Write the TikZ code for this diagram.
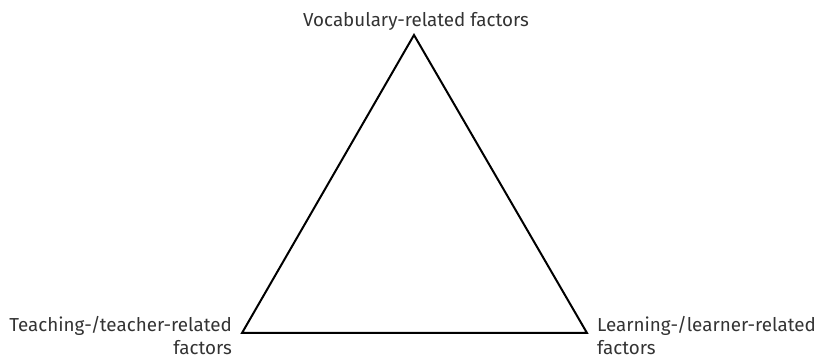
\documentclass[tikz,border=0pt]{standalone}
\usepackage{fontspec}
\setmainfont{Fira Sans}
\begin{document}
\begin{tikzpicture}[x=1pt,y=-1pt,
  lbl/.style={inner sep=0pt, text=black!80, font=\fontsize{18.8}{23}\selectfont},
  edge/.style={draw=black, line width=2pt, line join=miter}]
\useasboundingbox (0,0) rectangle (820,358);
\coordinate (top) at (414,35);
\coordinate (bl) at (242,333);
\coordinate (br) at (587,333);
\draw[edge] (top) -- (bl) -- (br) -- cycle;
\node[lbl, anchor=base] (voc) at (416,27) {Vocabulary-related factors};
\node[lbl, anchor=north east, align=right] (teach) at (232,316) {Teaching-/teacher-related\\factors};
\node[lbl, anchor=north west, align=left] (learn) at (597,316) {Learning-/learner-related\\factors};
\end{tikzpicture}
\end{document}
